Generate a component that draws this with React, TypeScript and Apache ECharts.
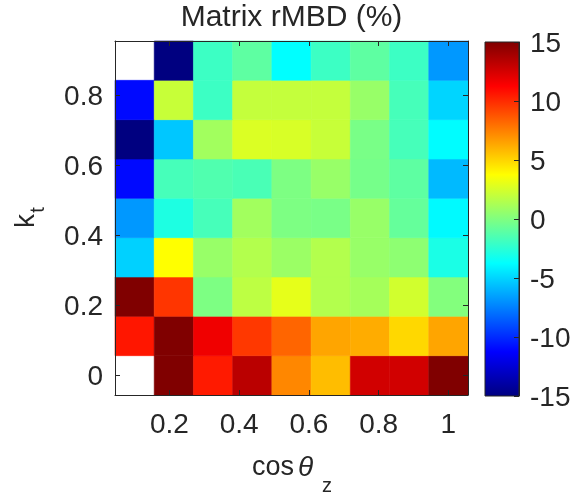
import React, { useEffect, useRef } from 'react';
import * as echarts from 'echarts';

// bin centres (imagesc style)
const cosThetaZ = [0.1, 0.2125, 0.325, 0.4375, 0.55, 0.6625, 0.775, 0.8875, 1.0];
const kt = [0, 0.1125, 0.225, 0.3375, 0.45, 0.5625, 0.675, 0.7875, 0.9];

// rMBD (%) per kt row, from kt = 0 (bottom) to kt = 0.9 (top); null = no data
const rowKt0 = [null, 15, 10.5, 13.3, 7.3, 5.7, 12.6, 12.6, 15];
const rowKt1 = [10.6, 15, 11.7, 9.6, 8.3, 6.4, 6.2, 4.9, 6.4];
const rowKt2 = [15, 9.7, -0.1, 1.8, 3.0, 1.5, 1.1, 2.4, 0.1];
const rowKt3 = [-5.1, 3.75, 0.7, 1.5, 0.8, 1.5, 0.7, 0.4, -3.0];
const rowKt4 = [-6.8, -2.9, -1.7, 1.0, -0.1, -0.2, 0.7, -0.8, -3.9];
const rowKt5 = [-11, -1.7, -1.4, -1.6, -0.1, 0.7, -0.3, -1.0, -5.8];
const rowKt6 = [-15, -5.4, 1.0, 2.7, 2.6, 2.1, -0.2, -1.7, -3.8];
const rowKt7 = [-11, 2.1, -2.0, 2.0, 2.0, 2.0, 0.7, -1.7, -5.0];
const rowKt8 = [null, -15, -2.0, -1.0, -3.75, -2.0, -1.0, -2.0, -6.8];
const matrix = [rowKt0, rowKt1, rowKt2, rowKt3, rowKt4, rowKt5, rowKt6, rowKt7, rowKt8];

const xTicks = [0.2, 0.4, 0.6, 0.8, 1];
const yTicks = [0, 0.2, 0.4, 0.6, 0.8];
const cbarMin = -15;
const cbarMax = 15;
const cbarStep = 5;

const JET = ['#000080', '#0000ff', '#0080ff', '#00ffff', '#80ff80', '#ffff00', '#ff8000', '#ff0000', '#800000'];

const FONT = '"Liberation Sans", Arial, Helvetica, sans-serif';
const TXT = '#262626';
const FS = 28;

export default function App() {
  const ref = useRef<HTMLDivElement>(null);
  useEffect(() => {
    if (!ref.current) return;
    const chart = echarts.init(ref.current, null, { renderer: 'svg' });
    const dx = (cosThetaZ[1] - cosThetaZ[0]) / 2;
    const dy = (kt[1] - kt[0]) / 2;
    const cells: number[][] = [];
    matrix.forEach((row, j) =>
      row.forEach((v, i) => {
        if (v !== null) cells.push([cosThetaZ[i], kt[j], v as number]);
      })
    );
    const axisCommon = {
      axisLine: { show: true, onZero: false, lineStyle: { color: TXT, width: 1 } },
      splitLine: { show: false },
      z: 10,
    };
    const xMin = cosThetaZ[0] - dx;
    const xMax = cosThetaZ[cosThetaZ.length - 1] + dx;
    const yMin = kt[0] - dy;
    const yMax = kt[kt.length - 1] + dy;
    const labelStyle = { fontFamily: FONT, fontSize: FS, color: TXT };
    const stops = JET.map((c, i) => ({ offset: i / (JET.length - 1), color: c }));

    chart.setOption({
      animation: false,
      title: {
        text: 'Matrix rMBD (%)',
        left: 'center',
        top: -5,
        textStyle: { fontFamily: FONT, fontSize: 30, fontWeight: 'normal', color: TXT },
      },
      grid: [
        { left: 115, top: 41, width: 353, height: 354 },
        { left: 485, top: 42, width: 34, height: 354 },
      ],
      xAxis: [
        {
          type: 'value', gridIndex: 0, min: xMin, max: xMax, position: 'bottom', ...axisCommon,
          axisTick: { show: true, inside: true, length: 5, customValues: xTicks, lineStyle: { color: TXT } },
          axisLabel: { ...labelStyle, customValues: xTicks, margin: 14, formatter: (v: number) => String(v) },
        },
        {
          type: 'value', gridIndex: 0, min: xMin, max: xMax, position: 'top', ...axisCommon,
          axisTick: { show: true, inside: true, length: 5, customValues: xTicks, lineStyle: { color: TXT } },
          axisLabel: { show: false },
        },
        { type: 'value', gridIndex: 1, min: 0, max: 1, show: false },
      ],
      yAxis: [
        {
          type: 'value', gridIndex: 0, min: yMin, max: yMax, position: 'left', ...axisCommon,
          axisTick: { show: true, inside: true, length: 5, customValues: yTicks, lineStyle: { color: TXT } },
          axisLabel: { ...labelStyle, customValues: yTicks, margin: 12, formatter: (v: number) => String(v) },
        },
        {
          type: 'value', gridIndex: 0, min: yMin, max: yMax, position: 'right', ...axisCommon,
          axisTick: { show: true, inside: true, length: 5, customValues: yTicks, lineStyle: { color: TXT } },
          axisLabel: { show: false },
        },
        {
          type: 'value', gridIndex: 1, min: cbarMin, max: cbarMax, interval: cbarStep, position: 'right', ...axisCommon,
          axisTick: { show: true, inside: true, length: 5, lineStyle: { color: TXT } },
          axisLabel: { ...labelStyle, margin: 11 },
        },
      ],
      visualMap: {
        type: 'continuous', min: cbarMin, max: cbarMax, dimension: 2, seriesIndex: 0, show: false,
        inRange: { color: JET },
      },
      series: [
        {
          type: 'custom', xAxisIndex: 0, yAxisIndex: 0, data: cells, encode: { x: 0, y: 1 },
          renderItem: (params: any, api: any) => {
            const p0 = api.coord([api.value(0) - dx, api.value(1) + dy]);
            const p1 = api.coord([api.value(0) + dx, api.value(1) - dy]);
            const c = api.visual('color');
            return {
              type: 'rect',
              shape: { x: p0[0], y: p0[1], width: p1[0] - p0[0], height: p1[1] - p0[1] },
              style: { fill: c, stroke: c, lineWidth: 0.6 },
            };
          },
        },
        {
          type: 'custom', xAxisIndex: 2, yAxisIndex: 2, data: [[0, cbarMin, 1, cbarMax]], encode: { x: [0, 2], y: [1, 3] },
          renderItem: (params: any, api: any) => {
            const p0 = api.coord([api.value(0), api.value(3)]);
            const p1 = api.coord([api.value(2), api.value(1)]);
            return {
              type: 'rect',
              shape: { x: p0[0], y: p0[1], width: p1[0] - p0[0], height: p1[1] - p0[1] },
              style: {
                fill: new echarts.graphic.LinearGradient(0, 1, 0, 0, stops),
                stroke: TXT,
                lineWidth: 1,
              },
            };
          },
        },
      ],
      graphic: [
        { type: 'text', x: 252, y: 466, style: { text: 'cos', fontFamily: FONT, fontSize: 27, fill: TXT, textAlign: 'left', textVerticalAlign: 'middle' } },
        { type: 'text', x: 298, y: 466, style: { text: 'θ', fontFamily: FONT, fontSize: FS, fontStyle: 'italic', fill: TXT, textAlign: 'left', textVerticalAlign: 'middle' } },
        { type: 'text', x: 327, y: 485, style: { text: 'z', fontFamily: FONT, fontSize: 20, fill: TXT, textAlign: 'center', textVerticalAlign: 'middle' } },
        { type: 'text', x: 24, y: 221, rotation: Math.PI / 2, style: { text: 'k', fontFamily: FONT, fontSize: FS, fill: TXT, textAlign: 'center', textVerticalAlign: 'middle' } },
        { type: 'text', x: 37, y: 210, rotation: Math.PI / 2, style: { text: 't', fontFamily: FONT, fontSize: 20, fill: TXT, textAlign: 'center', textVerticalAlign: 'middle' } },
      ],
    });
    return () => chart.dispose();
  }, []);
  return <div ref={ref} style={{ position: 'fixed', left: 0, top: 0, width: 583, height: 497 }} />;
}
